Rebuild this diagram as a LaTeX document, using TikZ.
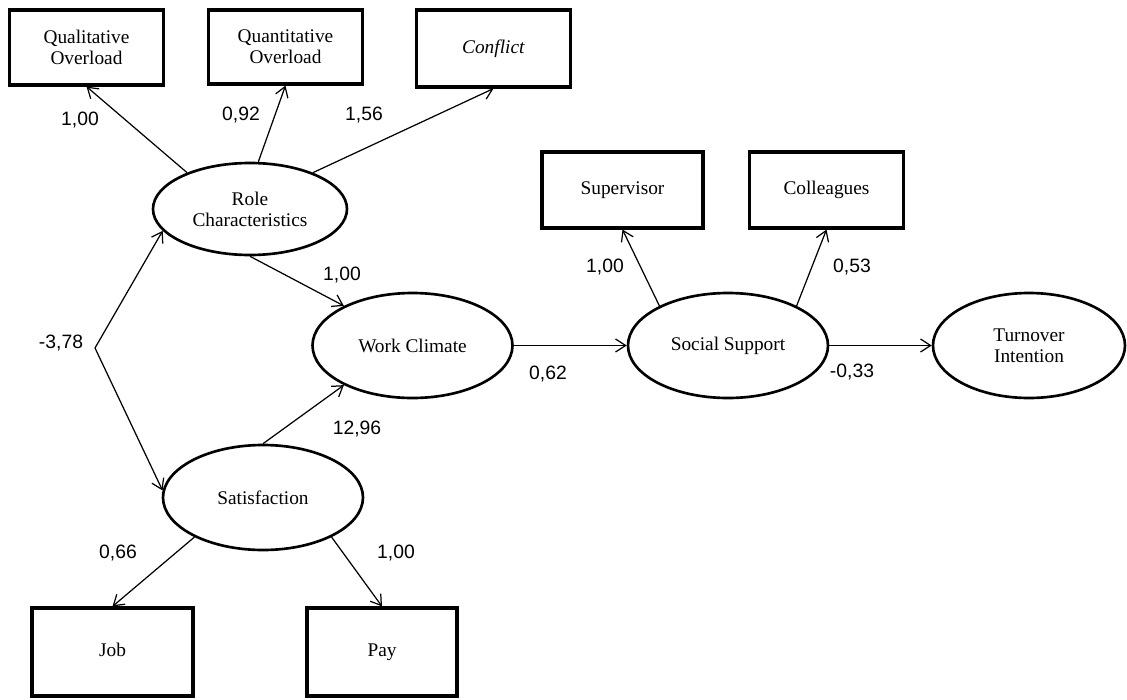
\documentclass[tikz,border=0pt]{standalone}
\usepackage{fontspec}
\setmainfont{Liberation Serif}
\newfontfamily\numfont{Liberation Sans}
\usetikzlibrary{arrows.meta,shapes.geometric}

\begin{document}
\begin{tikzpicture}[>={Straight Barb[length=2mm,width=2.6mm]},
box/.style={draw=black,line width=1.8pt,minimum width=3.08cm,minimum height=1.5cm,align=center,inner sep=2pt,font=\fontsize{11}{12}\selectfont},
latent/.style={ellipse,draw=black,line width=1.5pt,minimum width=4.0cm,minimum height=2.1cm,align=center,inner sep=0pt,font=\fontsize{11}{12}\selectfont},
path/.style={->,line width=0.7pt,draw=black},
coef/.style={font=\numfont\fontsize{11}{12}\selectfont,inner sep=1pt}]
\useasboundingbox (0,0) rectangle (22.54,-14);
% indicators of role characteristics
\node[box] (qual) at (1.73,-0.95) {Qualitative\\Overload};
\node[box,minimum height=1.48cm] (quant) at (5.71,-0.94) {Quantitative\\Overload};
\node[box,minimum height=1.54cm] (confl) at (9.87,-0.97) {\textit{Conflict}};
% latent variables
\node[latent,minimum width=3.88cm,minimum height=1.84cm] (role) at (5.0,-4.18) {Role\\Characteristics};
\node[latent] (climate) at (8.25,-6.91) {Work Climate};
\node[latent] (support) at (14.56,-6.91) {Social Support};
\node[latent,minimum width=3.84cm] (turnover) at (20.58,-6.91) {Turnover\\Intention};
\node[latent] (satis) at (5.26,-9.95) {Satisfaction};
% indicators of social support and satisfaction
\node[box,minimum width=3.22cm,minimum height=1.52cm] (superv) at (12.45,-3.80) {Supervisor};
\node[box,minimum height=1.52cm] (colleag) at (16.53,-3.80) {Colleagues};
\node[box,minimum width=3.22cm,minimum height=1.76cm,text height=1.6ex,text depth=0.5ex] (job) at (2.25,-13.04) {Job};
\node[box,minimum width=3.0cm,minimum height=1.76cm,text height=1.6ex,text depth=0.5ex] (pay) at (7.64,-13.04) {Pay};
\coordinate (cov) at (1.9,-6.96);
% paths
\draw[path] (role.150)--(qual.south);
\draw[path] (role.80)--(quant.south);
\draw[path] (role.30)--(confl.south);
\draw[path] (role.south)--(climate.150);
\draw[path] (satis.north)--(climate.210);
\draw[path] (cov)--(role.194);
\draw[path] (cov)--(satis.176);
\draw[path] (satis.210)--(job.north);
\draw[path] (satis.330)--(pay.north);
\draw[path] (climate.east)--(support.west);
\draw[path] (support.150)--(superv.south);
\draw[path] (support.30)--(colleag.south);
\draw[path] (support.east)--(turnover.west);
% coefficients
\node[coef] (cqual) at (1.6,-2.4) {1,00};
\node[coef] (cquant) at (4.82,-2.3) {0,92};
\node[coef] (cconfl) at (7.28,-2.3) {1,56};
\node[coef] (crole) at (6.84,-5.5) {1,00};
\node[coef] (ccov) at (1.22,-6.86) {-3,78};
\node[coef] (csatis) at (7.14,-8.58) {12,96};
\node[coef] (cclimate) at (10.96,-7.48) {0,62};
\node[coef] (csuperv) at (12.1,-5.34) {1,00};
\node[coef] (ccolleag) at (17.04,-5.34) {0,53};
\node[coef] (cturn) at (17.04,-7.44) {-0,33};
\node[coef] (cjob) at (2.36,-11.06) {0,66};
\node[coef] (cpay) at (7.92,-11.06) {1,00};
\end{tikzpicture}
\end{document}
